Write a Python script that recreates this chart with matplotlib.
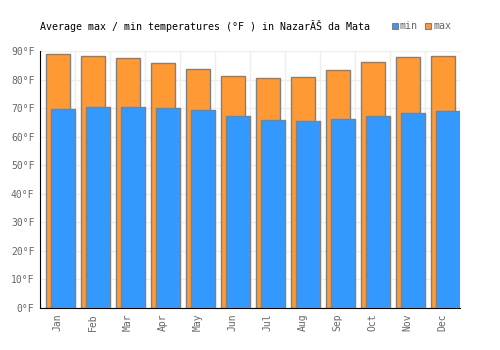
import matplotlib
matplotlib.use("Agg")
import matplotlib.pyplot as plt
import numpy as np

months = ["Jan", "Feb", "Mar", "Apr", "May", "Jun", "Jul", "Aug", "Sep", "Oct", "Nov", "Dec"]
temp_max = [89, 88.2, 87.5, 85.8, 83.7, 81.2, 80.5, 80.9, 83.3, 86.1, 87.9, 88.2]
temp_min = [69.7, 70.4, 70.4, 70.0, 69.3, 67.2, 65.8, 65.5, 66.2, 67.2, 68.3, 69.0]
y_ticks = [0, 10, 20, 30, 40, 50, 60, 70, 80, 90]

BLUE = "#3399ff"
ORANGE = "#ff9933"
EDGE = "#808080"
TXT = "#666666"

plt.rcParams["font.family"] = ["DejaVu Sans Mono"]

fig = plt.figure(figsize=(5, 3.5), dpi=100)
ax = fig.add_axes([0.08, 0.12, 0.84, 0.734])

x = np.arange(len(months))
ax.bar(x + 0.01, temp_max, width=0.67, color=ORANGE, edgecolor=EDGE, linewidth=1, zorder=2)
ax.bar(x + 0.16, temp_min, width=0.70, color=BLUE, edgecolor=EDGE, linewidth=1, zorder=3)

ax.set_xlim(-0.5, len(months) - 0.5)
ax.set_ylim(0, 90)
ax.set_yticks(y_ticks)
ax.set_yticklabels([f"{v}°F" for v in y_ticks], fontsize=7, color=TXT)
ax.set_xticks(x)
ax.set_xticklabels(months, rotation=90, fontsize=7, color=TXT)
ax.tick_params(length=0, pad=4)

ax.set_xticks(np.arange(-0.5, len(months)), minor=True)
ax.grid(True, which="minor", axis="x", color="#eeeeee", linewidth=1, zorder=0)
ax.grid(True, which="major", axis="y", color="#eeeeee", linewidth=1, zorder=0)
ax.tick_params(which="minor", length=0)
ax.set_axisbelow(True)

for s in ("top", "right"):
    ax.spines[s].set_visible(False)
ax.spines["left"].set_color("black")
ax.spines["bottom"].set_color("black")

fig.text(0.08, 0.926, "Average max / min temperatures (°F ) in NazarÃŠ da Mata",
         fontsize=7.2, color="black", va="center", ha="left")
fig.patches.append(plt.Rectangle((0.784, 0.917), 0.012, 0.017, transform=fig.transFigure,
                                 facecolor=BLUE, edgecolor=EDGE, linewidth=0.8))
fig.text(0.800, 0.926, "min", fontsize=7.2, color=TXT, va="center", ha="left")
fig.patches.append(plt.Rectangle((0.850, 0.917), 0.012, 0.017, transform=fig.transFigure,
                                 facecolor=ORANGE, edgecolor=EDGE, linewidth=0.8))
fig.text(0.868, 0.926, "max", fontsize=7.2, color=TXT, va="center", ha="left")

fig.savefig("out.png", dpi=100)
